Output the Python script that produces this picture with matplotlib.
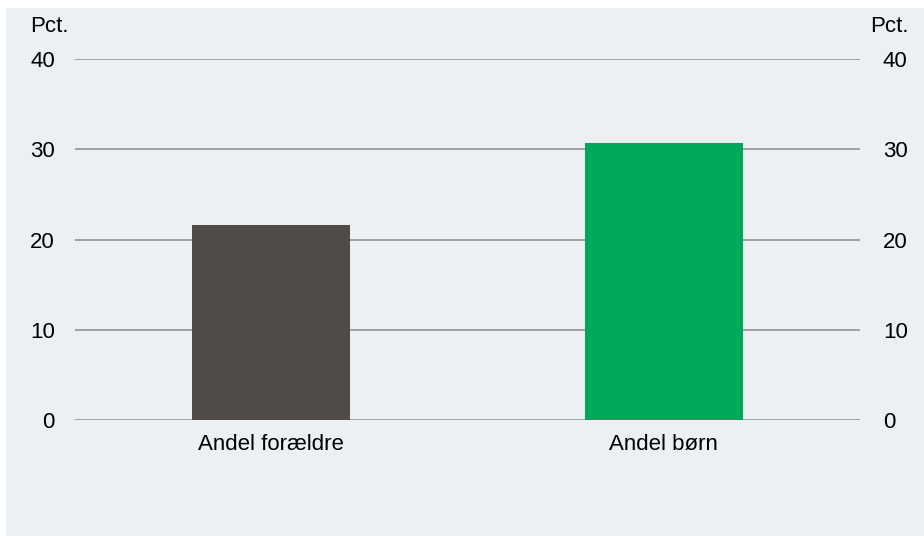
import matplotlib.pyplot as plt
from matplotlib.patches import Rectangle

categories = ["Andel forældre", "Andel børn"]
values = [21.6, 30.7]
bar_colors = ["#4f4b48", "#00a85a"]
yticks = [0, 10, 20, 30, 40]

plt.rcParams['font.family'] = ['Liberation Sans', 'DejaVu Sans']
FS = 16

fig = plt.figure(figsize=(9.24, 5.36), dpi=100)
fig.patch.set_facecolor("white")
# light panel behind the chart
fig.add_artist(Rectangle((6 / 924, 0), 1 - 6 / 924, 1 - 8 / 536,
                         transform=fig.transFigure, facecolor="#ecf0f3",
                         edgecolor="none", zorder=0))

ax = fig.add_axes([75 / 924, 1 - 420 / 536, 785 / 924, 361 / 536])
ax.set_facecolor("none")

x = range(len(categories))
ax.bar(x, values, width=0.403, color=bar_colors, zorder=3)

ax.set_xlim(-0.5, 1.5)
ax.set_ylim(0, 40)
ax.set_yticks(yticks)
ax.yaxis.grid(True, color="#999999", linewidth=1.3)
ax.set_axisbelow(True)
for s in ax.spines.values():
    s.set_visible(False)

ax.tick_params(axis="y", length=0, labelsize=FS, pad=14.5)
ax.tick_params(axis="x", length=0, labelsize=FS, pad=10)
ax.set_xticks(list(x))
ax.set_xticklabels(categories)

# right hand axis labels
ax2 = ax.twinx()
ax2.set_ylim(ax.get_ylim())
ax2.set_yticks(yticks)
ax2.tick_params(axis="y", length=0, labelsize=FS, pad=16.5)
for s in ax2.spines.values():
    s.set_visible(False)

fig.text(30 / 924, 1 - 32 / 536, "Pct.", fontsize=FS, ha="left", va="baseline")
fig.text(909 / 924, 1 - 32 / 536, "Pct.", fontsize=FS, ha="right", va="baseline")

fig.savefig("out.png", dpi=100)
